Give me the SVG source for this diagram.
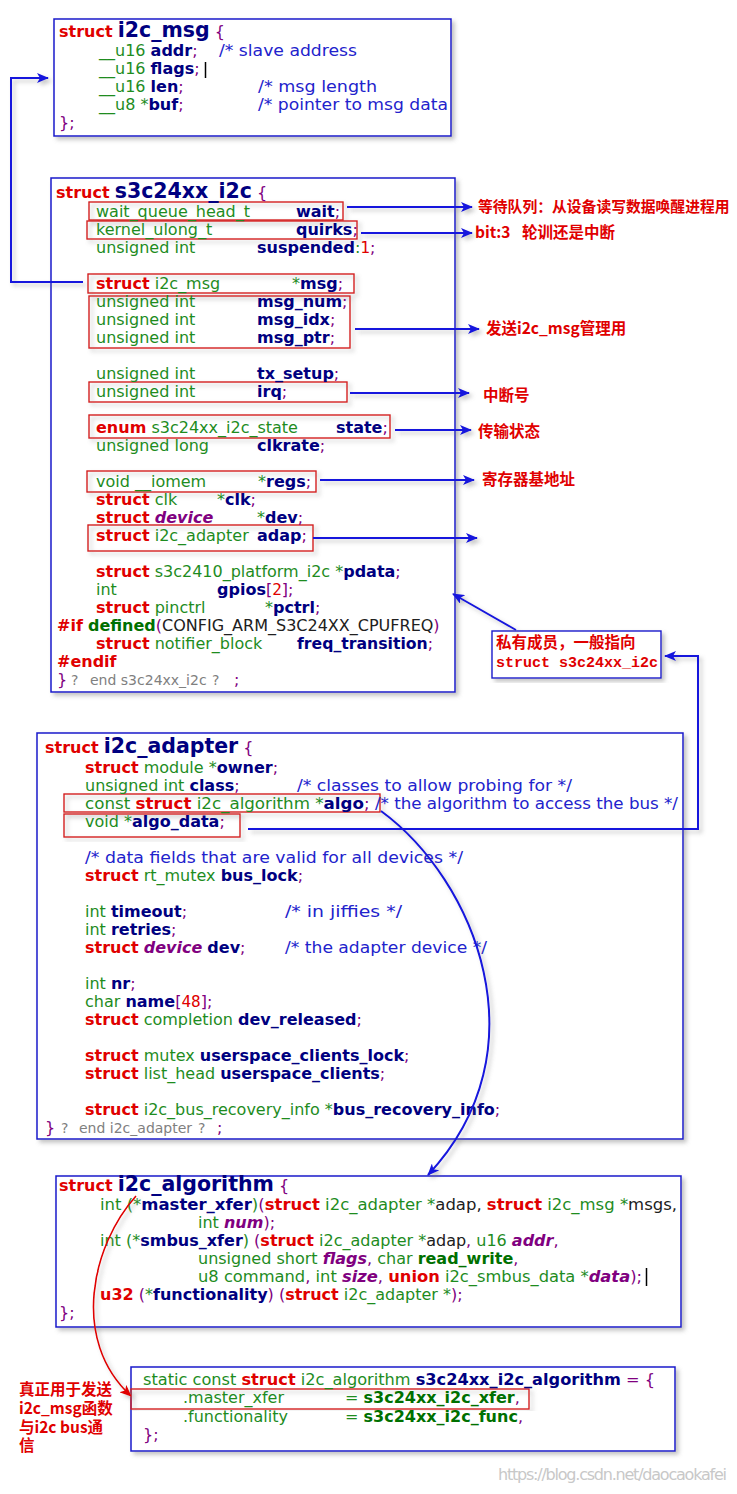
<svg xmlns="http://www.w3.org/2000/svg" width="737" height="1494" viewBox="0 0 737 1494">
<defs>
<filter id="sh" x="-5%" y="-5%" width="115%" height="115%">
<feDropShadow dx="3" dy="3" stdDeviation="2" flood-color="#7a7a7a" flood-opacity="0.45"/>
</filter>
<marker id="ab" viewBox="0 0 12 10" refX="11" refY="5" markerWidth="12" markerHeight="10" markerUnits="userSpaceOnUse" orient="auto">
<path d="M0,0 L12,5 L0,10 L3,5 Z" fill="#1515dd"/>
</marker>
<marker id="ar" viewBox="0 0 12 10" refX="11" refY="5" markerWidth="12" markerHeight="10" markerUnits="userSpaceOnUse" orient="auto">
<path d="M0,0 L12,5 L0,10 L3,5 Z" fill="#e00000"/>
</marker>
</defs>
<style>
text { font-family: "DejaVu Sans", Verdana, sans-serif; font-size: 16px; }
.box { fill: #ffffff; stroke: #1a1acc; stroke-width: 1.5; }
.hl { fill: none; stroke: #d42020; stroke-width: 1.4; }
.k { fill: #e00000; font-weight: bold; }
.t { fill: #1e8c1e; }
.m { fill: #000080; font-weight: bold; }
.p { fill: #800080; }
.c { fill: #2222cc; }
.n { fill: #e00000; font-family: "DejaVu Sans Mono", monospace; }
.i { fill: #800080; font-weight: bold; font-style: italic; }
.g { fill: #808080; font-size: 14px; }
.bk { fill: #202020; }
.gb { fill: #007000; font-weight: bold; }
.ttl { fill: #000080; font-weight: bold; font-size: 20.5px; }
.cn { font-family: "Noto Sans CJK SC", sans-serif; font-size: 15.5px; font-weight: bold; fill: #e00000; }
.cnw { font-family: "Noto Sans CJK SC", sans-serif; font-size: 14.8px; font-weight: bold; fill: #e00000; }
.mono { font-family: "Liberation Mono", monospace; font-size: 15px; font-weight: bold; fill: #e00000; }
.line { fill: none; stroke: #1515dd; stroke-width: 2; }
.rline { fill: none; stroke: #e00000; stroke-width: 1.6; }
</style>

<g id="i2c_msg">
<rect class="box" x="54" y="19" width="397" height="117" filter="url(#sh)"/>
<text x="59" y="37"><tspan class="k">struct</tspan> <tspan class="ttl">i2c_msg</tspan> <tspan class="p">{</tspan></text>
<text x="99" y="56"><tspan class="t">__u16</tspan> <tspan class="m">addr</tspan><tspan class="p">;</tspan></text>
<text x="219" y="56" class="c" textLength="138" lengthAdjust="spacingAndGlyphs">/* slave address</text>
<text x="99" y="74"><tspan class="t">__u16</tspan> <tspan class="m">flags</tspan><tspan class="p">;</tspan></text>
<line x1="205.5" y1="62" x2="205.5" y2="78" stroke="#000" stroke-width="1.5"/>
<text x="99" y="92"><tspan class="t">__u16</tspan> <tspan class="m">len</tspan><tspan class="p">;</tspan></text>
<text x="258" y="92" class="c" textLength="119" lengthAdjust="spacingAndGlyphs">/* msg length</text>
<text x="99" y="110"><tspan class="t">__u8 *</tspan><tspan class="m">buf</tspan><tspan class="p">;</tspan></text>
<text x="258" y="110" class="c" textLength="190" lengthAdjust="spacingAndGlyphs">/* pointer to msg data</text>
<text x="59" y="128" class="p">};</text>
</g>

<g id="s3c24xx_i2c">
<rect class="box" x="51" y="178" width="404" height="514" filter="url(#sh)"/>
<g filter="url(#sh)">
<rect class="hl" x="89" y="202" width="254" height="18"/>
<rect class="hl" x="87" y="221" width="270" height="18"/>
<rect class="hl" x="88" y="274" width="266" height="19"/>
<rect class="hl" x="89" y="296" width="261" height="52"/>
<rect class="hl" x="89" y="382" width="258" height="20"/>
<rect class="hl" x="89" y="415" width="301" height="23"/>
<rect class="hl" x="87" y="471" width="229" height="21"/>
<rect class="hl" x="88" y="525" width="225" height="26"/>
</g>
<text x="56" y="198"><tspan class="k">struct</tspan> <tspan class="ttl">s3c24xx_i2c</tspan> <tspan class="p">{</tspan></text>
<text x="96" y="217" class="t">wait_queue_head_t</text>
<text x="296" y="217"><tspan class="m">wait</tspan><tspan class="p">;</tspan></text>
<text x="96" y="235" class="t">kernel_ulong_t</text>
<text x="296" y="235"><tspan class="m">quirks</tspan><tspan class="p">;</tspan></text>
<text x="96" y="253" class="t">unsigned int</text>
<text x="257" y="253"><tspan class="m">suspended</tspan><tspan class="t">:</tspan><tspan class="n">1</tspan><tspan class="p">;</tspan></text>
<text x="96" y="289"><tspan class="k">struct</tspan><tspan class="t"> i2c_msg</tspan></text>
<text x="292" y="289"><tspan class="t">*</tspan><tspan class="m">msg</tspan><tspan class="p">;</tspan></text>
<text x="96" y="307" class="t">unsigned int</text>
<text x="257" y="307"><tspan class="m">msg_num</tspan><tspan class="p">;</tspan></text>
<text x="96" y="325" class="t">unsigned int</text>
<text x="257" y="325"><tspan class="m">msg_idx</tspan><tspan class="p">;</tspan></text>
<text x="96" y="343" class="t">unsigned int</text>
<text x="257" y="343"><tspan class="m">msg_ptr</tspan><tspan class="p">;</tspan></text>
<text x="96" y="379" class="t">unsigned int</text>
<text x="257" y="379"><tspan class="m">tx_setup</tspan><tspan class="p">;</tspan></text>
<text x="96" y="397" class="t">unsigned int</text>
<text x="257" y="397"><tspan class="m">irq</tspan><tspan class="p">;</tspan></text>
<text x="96" y="433"><tspan class="k">enum</tspan><tspan class="t"> s3c24xx_i2c_state</tspan></text>
<text x="336" y="433"><tspan class="m">state</tspan><tspan class="p">;</tspan></text>
<text x="96" y="451" class="t">unsigned long</text>
<text x="257" y="451"><tspan class="m">clkrate</tspan><tspan class="p">;</tspan></text>
<text x="96" y="487" class="t">void __iomem</text>
<text x="258" y="487"><tspan class="t">*</tspan><tspan class="m">regs</tspan><tspan class="p">;</tspan></text>
<text x="96" y="505"><tspan class="k">struct</tspan><tspan class="t"> clk</tspan></text>
<text x="217" y="505"><tspan class="t">*</tspan><tspan class="m">clk</tspan><tspan class="p">;</tspan></text>
<text x="96" y="523"><tspan class="k">struct</tspan> <tspan class="i">device</tspan></text>
<text x="257" y="523"><tspan class="t">*</tspan><tspan class="m">dev</tspan><tspan class="p">;</tspan></text>
<text x="96" y="541"><tspan class="k">struct</tspan><tspan class="t"> i2c_adapter</tspan></text>
<text x="257" y="541"><tspan class="m">adap</tspan><tspan class="p">;</tspan></text>
<text x="96" y="577"><tspan class="k">struct</tspan><tspan class="t"> s3c2410_platform_i2c *</tspan><tspan class="m">pdata</tspan><tspan class="p">;</tspan></text>
<text x="96" y="595" class="t">int</text>
<text x="217" y="595"><tspan class="m">gpios</tspan><tspan class="p">[</tspan><tspan class="n">2</tspan><tspan class="p">];</tspan></text>
<text x="96" y="613"><tspan class="k">struct</tspan><tspan class="t"> pinctrl</tspan></text>
<text x="265" y="613"><tspan class="t">*</tspan><tspan class="m">pctrl</tspan><tspan class="p">;</tspan></text>
<text x="57" y="631"><tspan class="k">#if</tspan> <tspan class="gb">defined</tspan><tspan class="p">(</tspan><tspan class="bk">CONFIG_ARM_S3C24XX_CPUFREQ</tspan><tspan class="p">)</tspan></text>
<text x="96" y="649"><tspan class="k">struct</tspan><tspan class="t"> notifier_block</tspan></text>
<text x="297" y="649" textLength="136" lengthAdjust="spacingAndGlyphs"><tspan class="m">freq_transition</tspan><tspan class="p">;</tspan></text>
<text x="57" y="667" class="k">#endif</text>
<text x="57" y="685"><tspan class="p">}</tspan><tspan class="g" x="71">?</tspan><tspan class="g" x="90">end s3c24xx_i2c</tspan><tspan class="g" x="212">?</tspan><tspan class="p" x="234">;</tspan></text>
</g>

<g id="note_private">
<rect x="492" y="631" width="169" height="47" fill="#ffffff" stroke="#1a1acc" stroke-width="1.4" filter="url(#sh)"/>
<text x="496" y="648" class="cn">私有成员，一般指向</text>
<text x="496" y="667" class="mono">struct s3c24xx_i2c</text>
</g>

<g id="i2c_adapter">
<rect class="box" x="37" y="733" width="646" height="406" filter="url(#sh)"/>
<g filter="url(#sh)">
<rect class="hl" x="64" y="794" width="316" height="18"/>
<rect class="hl" x="64" y="814" width="176" height="23"/>
</g>
<text x="45" y="753"><tspan class="k">struct</tspan> <tspan class="ttl">i2c_adapter</tspan> <tspan class="p">{</tspan></text>
<text x="85" y="773"><tspan class="k">struct</tspan><tspan class="t"> module *</tspan><tspan class="m">owner</tspan><tspan class="p">;</tspan></text>
<text x="85" y="791"><tspan class="t">unsigned int </tspan><tspan class="m">class</tspan><tspan class="p">;</tspan></text>
<text x="297" y="791" class="c" textLength="275" lengthAdjust="spacingAndGlyphs">/* classes to allow probing for */</text>
<text x="85" y="809" textLength="593" lengthAdjust="spacingAndGlyphs"><tspan class="t">const </tspan><tspan class="k">struct</tspan><tspan class="t"> i2c_algorithm *</tspan><tspan class="m">algo</tspan><tspan class="p">;</tspan><tspan class="c"> /* the algorithm to access the bus */</tspan></text>
<text x="85" y="827"><tspan class="t">void *</tspan><tspan class="m">algo_data</tspan><tspan class="p">;</tspan></text>
<text x="85" y="863" class="c" textLength="378" lengthAdjust="spacingAndGlyphs">/* data fields that are valid for all devices */</text>
<text x="85" y="881"><tspan class="k">struct</tspan><tspan class="t"> rt_mutex </tspan><tspan class="m">bus_lock</tspan><tspan class="p">;</tspan></text>
<text x="85" y="917"><tspan class="t">int </tspan><tspan class="m">timeout</tspan><tspan class="p">;</tspan></text>
<text x="285" y="917" class="c" textLength="117" lengthAdjust="spacingAndGlyphs">/* in jiffies */</text>
<text x="85" y="935"><tspan class="t">int </tspan><tspan class="m">retries</tspan><tspan class="p">;</tspan></text>
<text x="85" y="953"><tspan class="k">struct</tspan> <tspan class="i">device</tspan> <tspan class="m">dev</tspan><tspan class="p">;</tspan></text>
<text x="285" y="953" class="c" textLength="202" lengthAdjust="spacingAndGlyphs">/* the adapter device */</text>
<text x="85" y="989"><tspan class="t">int </tspan><tspan class="m">nr</tspan><tspan class="p">;</tspan></text>
<text x="85" y="1007"><tspan class="t">char </tspan><tspan class="m">name</tspan><tspan class="p">[</tspan><tspan class="n">48</tspan><tspan class="p">];</tspan></text>
<text x="85" y="1025"><tspan class="k">struct</tspan><tspan class="t"> completion </tspan><tspan class="m">dev_released</tspan><tspan class="p">;</tspan></text>
<text x="85" y="1061"><tspan class="k">struct</tspan><tspan class="t"> mutex </tspan><tspan class="m">userspace_clients_lock</tspan><tspan class="p">;</tspan></text>
<text x="85" y="1079"><tspan class="k">struct</tspan><tspan class="t"> list_head </tspan><tspan class="m">userspace_clients</tspan><tspan class="p">;</tspan></text>
<text x="85" y="1115"><tspan class="k">struct</tspan><tspan class="t"> i2c_bus_recovery_info *</tspan><tspan class="m">bus_recovery_info</tspan><tspan class="p">;</tspan></text>
<text x="45" y="1133"><tspan class="p">}</tspan><tspan class="g" x="61">?</tspan><tspan class="g" x="79">end i2c_adapter</tspan><tspan class="g" x="198">?</tspan><tspan class="p" x="217">;</tspan></text>
</g>

<g id="i2c_algorithm">
<rect class="box" x="56" y="1176" width="625" height="151" filter="url(#sh)"/>
<text x="59" y="1191"><tspan class="k">struct</tspan> <tspan class="ttl">i2c_algorithm</tspan> <tspan class="p">{</tspan></text>
<text x="100" y="1210" textLength="577" lengthAdjust="spacingAndGlyphs"><tspan class="t">int (*</tspan><tspan class="m">master_xfer</tspan><tspan class="t">)</tspan><tspan class="p">(</tspan><tspan class="k">struct</tspan><tspan class="t"> i2c_adapter *</tspan><tspan class="bk">adap, </tspan><tspan class="k">struct</tspan><tspan class="t"> i2c_msg *</tspan><tspan class="bk">msgs,</tspan></text>
<text x="198" y="1228"><tspan class="t">int </tspan><tspan class="i">num</tspan><tspan class="p">);</tspan></text>
<text x="100" y="1246"><tspan class="t">int (*</tspan><tspan class="m">smbus_xfer</tspan><tspan class="t">)</tspan><tspan class="p"> (</tspan><tspan class="k">struct</tspan><tspan class="t"> i2c_adapter *</tspan><tspan class="bk">adap</tspan><tspan class="p">,</tspan><tspan class="t"> u16 </tspan><tspan class="i">addr</tspan><tspan class="p">,</tspan></text>
<text x="198" y="1264"><tspan class="t">unsigned short </tspan><tspan class="i">flags</tspan><tspan class="p">,</tspan><tspan class="t"> char </tspan><tspan class="gb">read_write</tspan><tspan class="p">,</tspan></text>
<text x="198" y="1282" textLength="444" lengthAdjust="spacingAndGlyphs"><tspan class="t">u8 command</tspan><tspan class="p">,</tspan><tspan class="t"> int </tspan><tspan class="i">size</tspan><tspan class="p">,</tspan> <tspan class="k">union</tspan><tspan class="t"> i2c_smbus_data *</tspan><tspan class="i">data</tspan><tspan class="p">);</tspan></text>
<line x1="646.5" y1="1268" x2="646.5" y2="1286" stroke="#000" stroke-width="1.5"/>
<text x="100" y="1300"><tspan class="k" font-weight="normal">u32</tspan><tspan class="p"> (</tspan><tspan class="t">*</tspan><tspan class="m">functionality</tspan><tspan class="p">) (</tspan><tspan class="k">struct</tspan><tspan class="t"> i2c_adapter *</tspan><tspan class="p">);</tspan></text>
<text x="59" y="1318" class="p">};</text>
</g>

<g id="s3c24xx_i2c_algorithm">
<rect class="box" x="131" y="1367" width="544" height="84" filter="url(#sh)"/>
<rect class="hl" x="131" y="1389" width="398" height="20" filter="url(#sh)"/>
<text x="143" y="1385" textLength="512" lengthAdjust="spacingAndGlyphs"><tspan class="t">static const </tspan><tspan class="k">struct</tspan><tspan class="t"> i2c_algorithm </tspan><tspan class="m">s3c24xx_i2c_algorithm</tspan><tspan class="p"> = {</tspan></text>
<text x="183" y="1403" class="t">.master_xfer</text>
<text x="345" y="1403"><tspan class="t">= </tspan><tspan class="gb">s3c24xx_i2c_xfer</tspan><tspan class="p">,</tspan></text>
<text x="183" y="1422" class="t">.functionality</text>
<text x="345" y="1422"><tspan class="t">= </tspan><tspan class="gb">s3c24xx_i2c_func</tspan><tspan class="p">,</tspan></text>
<text x="143" y="1440" class="p">};</text>
</g>

<g id="labels">
<text x="478" y="212" class="cnw">等待队列：从设备读写数据唤醒进程用</text>
<text x="475" y="238" class="cn">bit:3<tspan x="522">轮训还是中断</tspan></text>
<text x="486" y="334" class="cn">发送i2c_msg管理用</text>
<text x="483" y="401" class="cn">中断号</text>
<text x="478" y="437" class="cn">传输状态</text>
<text x="482" y="485" class="cn">寄存器基地址</text>
<text x="19" y="1395" class="cn">真正用于发送<tspan x="19" dy="19">i2c_msg函数</tspan><tspan x="19" dy="19">与i2c bus通</tspan><tspan x="19" dy="18">信</tspan></text>
<text x="498" y="1480" font-family="Liberation Sans, Arial, sans-serif" font-size="14" fill="#c8c8c8" textLength="229">https://blog.csdn.net/daocaokafei</text>
</g>

<g id="connectors" filter="url(#sh)">
<path class="line" d="M83,282 H11 V78 H48" marker-end="url(#ab)"/>
<path class="line" d="M347,207 H472" marker-end="url(#ab)"/>
<path class="line" d="M361,233 H472" marker-end="url(#ab)"/>
<path class="line" d="M355,329 H479" marker-end="url(#ab)"/>
<path class="line" d="M350,393 H469" marker-end="url(#ab)"/>
<path class="line" d="M395,430 H471" marker-end="url(#ab)"/>
<path class="line" d="M320,480 H474" marker-end="url(#ab)"/>
<path class="line" d="M313,538 H477" marker-end="url(#ab)"/>
<path class="line" d="M516,630 L453,594" marker-end="url(#ab)"/>
<path class="line" d="M248,829 H698 V656 H665" marker-end="url(#ab)"/>
<path class="line" d="M381,811 C475,880 545,1050 428,1175" marker-end="url(#ab)"/>
<path class="rline" d="M136,1196 C92,1245 70,1340 131,1396" marker-end="url(#ar)"/>
</g>
</svg>
